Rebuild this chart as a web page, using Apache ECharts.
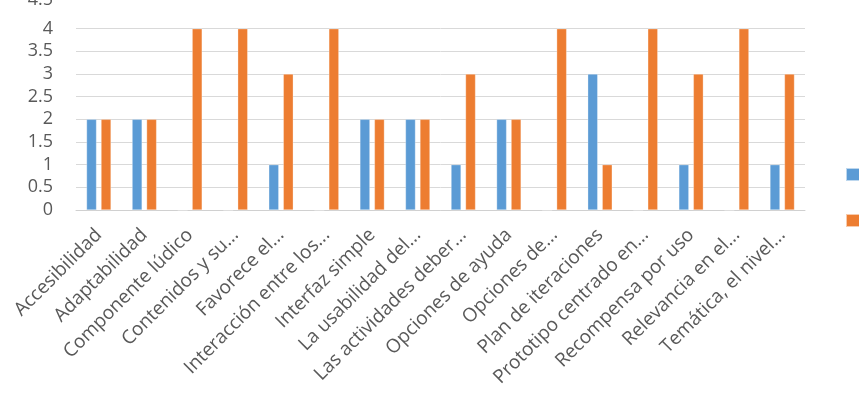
<!DOCTYPE html>
<html>
<head>
<meta charset="utf-8">
<script src="https://cdn.jsdelivr.net/npm/echarts@6/dist/echarts.min.js"></script>
<style>
  html, body { margin: 0; padding: 0; background: #fff; }
  #chart { width: 859px; height: 393px; }
</style>
</head>
<body>
<div id="chart"></div>
<script>
// categorías (eje X)
const categories = [
  'Accesibilidad', 'Adaptabilidad', 'Componente lúdico', 'Contenidos y su...',
  'Favorece el...', 'Interacción entre los...', 'Interfaz simple', 'La usabilidad del...',
  'Las actividades deber...', 'Opciones de ayuda', 'Opciones de...', 'Plan de iteraciones',
  'Prototipo centrado en...', 'Recompensa por uso', 'Relevancia en el...', 'Temática, el nivel...'
];
// series
const serie1 = [2, 2, 0, 0, 1, 0, 2, 2, 1, 2, 0, 3, 0, 1, 0, 1];
const serie2 = [2, 2, 4, 4, 3, 4, 2, 2, 3, 2, 4, 1, 4, 3, 4, 3];
const seriesNames = ['Serie1', 'Serie2'];
const yTicks = { min: 0, max: 4.5, interval: 0.5 };

const chart = echarts.init(document.getElementById('chart'));
const textColor = '#595959';
const font = '"Open Sans", "Liberation Sans", sans-serif';

let option = {
  animation: false,
  color: ['#5B9BD5', '#ED7D31'],
  grid: { left: 76, right: 54, top: 6, bottom: 183, containLabel: false, outerBoundsMode: 'none' },
  legend: {
    orient: 'vertical',
    left: 845,
    top: 167,
    padding: 0,
    itemWidth: 16,
    itemHeight: 13,
    itemGap: 31,
    icon: 'rect',
    textStyle: { color: textColor, fontSize: 12, lineHeight: 13, fontFamily: font },
    data: seriesNames
  },
  xAxis: {
    type: 'category',
    data: categories,
    axisLine: { show: true, lineStyle: { color: '#d0d0d0', width: 1 } },
    axisTick: { show: false },
    axisLabel: {
      interval: 0,
      rotate: 45,
      margin: 22,
      color: textColor,
      fontSize: 19,
      fontFamily: font
    }
  },
  yAxis: {
    type: 'value',
    min: yTicks.min,
    max: yTicks.max,
    interval: yTicks.interval,
    axisLine: { show: false },
    axisTick: { show: false },
    axisLabel: {
      color: textColor,
      fontSize: 18,
      fontFamily: font,
      margin: 23,
      // la etiqueta superior aparece recortada en el original
      formatter: function (v) { return v === yTicks.max ? '{cut|' + v + '}' : String(v); },
      rich: { cut: { fontSize: 18, fontFamily: font, color: textColor, padding: [0, 0, 12, 0] } }
    },
    splitLine: { show: true, showMaxLine: false, lineStyle: { color: '#d9d9d9', width: 1 } }
  },
  series: [
    {
      type: 'bar',
      name: seriesNames[0],
      data: serie1,
      barWidth: 10,
      barGap: '45%',
      itemStyle: { borderColor: 'rgba(255,255,255,0.6)', borderWidth: 0.5 }
    },
    {
      type: 'bar',
      name: seriesNames[1],
      data: serie2,
      barWidth: 10,
      barGap: '45%',
      itemStyle: { borderColor: 'rgba(255,255,255,0.6)', borderWidth: 0.5 }
    }
  ]
};

chart.setOption(option);
</script>
</body>
</html>
